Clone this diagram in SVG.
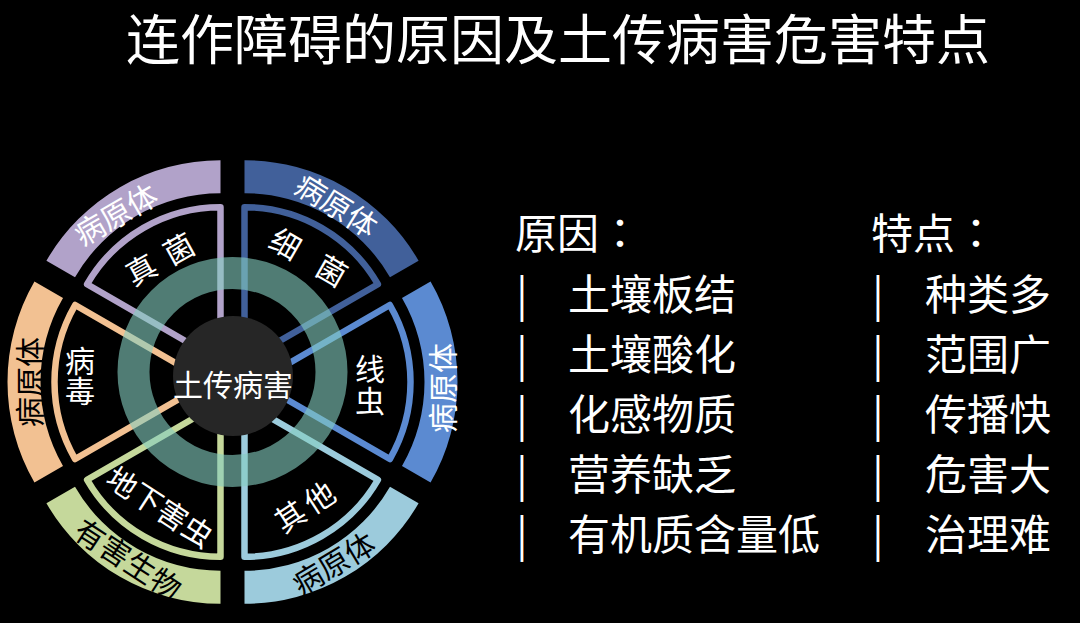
<svg xmlns="http://www.w3.org/2000/svg" xmlns:xlink="http://www.w3.org/1999/xlink" width="1080" height="623" viewBox="0 0 1080 623">
<style>
text{font-family:"Noto Sans CJK SC","Noto Sans",sans-serif;}
.lbl{font-size:30px;text-anchor:middle;dominant-baseline:central;}
.w{fill:#ffffff;}
.k{fill:#000000;}
.out{fill:#000;stroke-width:6.5;stroke-linejoin:round;}
.list{font-size:42px;fill:#ffffff;}
.colon{font-family:"Noto Sans CJK JP","Noto Sans CJK SC",sans-serif;}
</style>
<defs>
<path id="band" d="M174.07,-100.5 A201,201 0 0 1 174.07,100.5 L145.49,84 A168,168 0 0 0 145.49,-84 Z"/>
<path id="sector" d="M0,0 L133.37,-77 A154,154 0 0 1 133.37,77 Z"/>
</defs>
<rect width="1080" height="623" fill="#000"/>
<text id="title" x="558" y="60" font-size="54" fill="#fff" text-anchor="middle">连作障碍的原因及土传病害危害特点</text>

<g id="wheel">
<g id="seg-fungi">
<g transform="translate(220.5,361.2) rotate(240)">
<use xlink:href="#band" fill="#b1a2c9"/>
<use xlink:href="#sector" class="out" stroke="#b1a2c9"/>
</g>
</g>
<g id="seg-bacteria">
<g transform="translate(244.5,361.2) rotate(300)">
<use xlink:href="#band" fill="#41609a"/>
<use xlink:href="#sector" class="out" stroke="#41609a"/>
</g>
</g>
<g id="seg-nematode">
<g transform="translate(256.5,382) rotate(0)">
<use xlink:href="#band" fill="#5b8ad1"/>
<use xlink:href="#sector" class="out" stroke="#5b8ad1"/>
</g>
</g>
<g id="seg-other">
<g transform="translate(244.5,402.8) rotate(60)">
<use xlink:href="#band" fill="#9ccbdc"/>
<use xlink:href="#sector" class="out" stroke="#9ccbdc"/>
</g>
</g>
<g id="seg-pest">
<g transform="translate(220.5,402.8) rotate(120)">
<use xlink:href="#band" fill="#c5d89b"/>
<use xlink:href="#sector" class="out" stroke="#c5d89b"/>
</g>
</g>
<g id="seg-virus">
<g transform="translate(208.5,382) rotate(180)">
<use xlink:href="#band" fill="#f2c192"/>
<use xlink:href="#sector" class="out" stroke="#f2c192"/>
</g>
</g>

<circle id="ring" cx="232.5" cy="372" r="99" fill="none" stroke="#85cfc1" stroke-opacity="0.6" stroke-width="32"/>
<g id="hub">
<circle cx="233" cy="376" r="60" fill="#262626"/>
<text class="lbl w" x="233" y="382.5" font-size="30.5">土传病害</text>
</g>

<g id="labels">
<text class="lbl w" transform="translate(115,213) rotate(-30)">病原体</text>
<text class="lbl w" transform="translate(337.5,204) rotate(32)">病原体</text>
<text class="lbl w" transform="translate(441,388) rotate(-90)">病原体</text>
<text class="lbl k" transform="translate(333,562) rotate(-31)">病原体</text>
<text class="lbl k" font-size="29" transform="translate(129,558) rotate(33)">有害生物</text>
<text class="lbl k" transform="translate(27.5,382) rotate(-90)">病原体</text>

<text class="lbl w" font-size="28" letter-spacing="3.2" xml:space="preserve" transform="translate(160.5,257) rotate(-29)">真 菌</text>
<text class="lbl w" font-size="28" letter-spacing="8.3" xml:space="preserve" transform="translate(313,258) rotate(30)">细 菌</text>
<text class="lbl w"><tspan x="370" y="367">线</tspan><tspan x="370" y="399">虫</tspan></text>
<text class="lbl w" font-size="28.5"><tspan x="80" y="359">病</tspan><tspan x="80" y="388.5">毒</tspan></text>
<text class="lbl w" font-size="31" letter-spacing="5" transform="translate(306,504) rotate(-33)">其他</text>
<text class="lbl w" font-size="29" transform="translate(161,505.5) rotate(33)">地下害虫</text>
</g>
</g>

<g id="causes" class="list">
<text x="515" y="249">原因<tspan class="colon">：</tspan></text>
<text y="310"><tspan x="522" text-anchor="middle">|</tspan><tspan x="568">土壤板结</tspan></text>
<text y="370"><tspan x="522" text-anchor="middle">|</tspan><tspan x="568">土壤酸化</tspan></text>
<text y="430"><tspan x="522" text-anchor="middle">|</tspan><tspan x="568">化感物质</tspan></text>
<text y="490"><tspan x="522" text-anchor="middle">|</tspan><tspan x="568">营养缺乏</tspan></text>
<text y="550"><tspan x="522" text-anchor="middle">|</tspan><tspan x="568">有机质含量低</tspan></text>
</g>
<g id="features" class="list">
<text x="871" y="249">特点<tspan class="colon">：</tspan></text>
<text y="310"><tspan x="878" text-anchor="middle">|</tspan><tspan x="925">种类多</tspan></text>
<text y="370"><tspan x="878" text-anchor="middle">|</tspan><tspan x="925">范围广</tspan></text>
<text y="430"><tspan x="878" text-anchor="middle">|</tspan><tspan x="925">传播快</tspan></text>
<text y="490"><tspan x="878" text-anchor="middle">|</tspan><tspan x="925">危害大</tspan></text>
<text y="550"><tspan x="878" text-anchor="middle">|</tspan><tspan x="925">治理难</tspan></text>
</g>
</svg>
